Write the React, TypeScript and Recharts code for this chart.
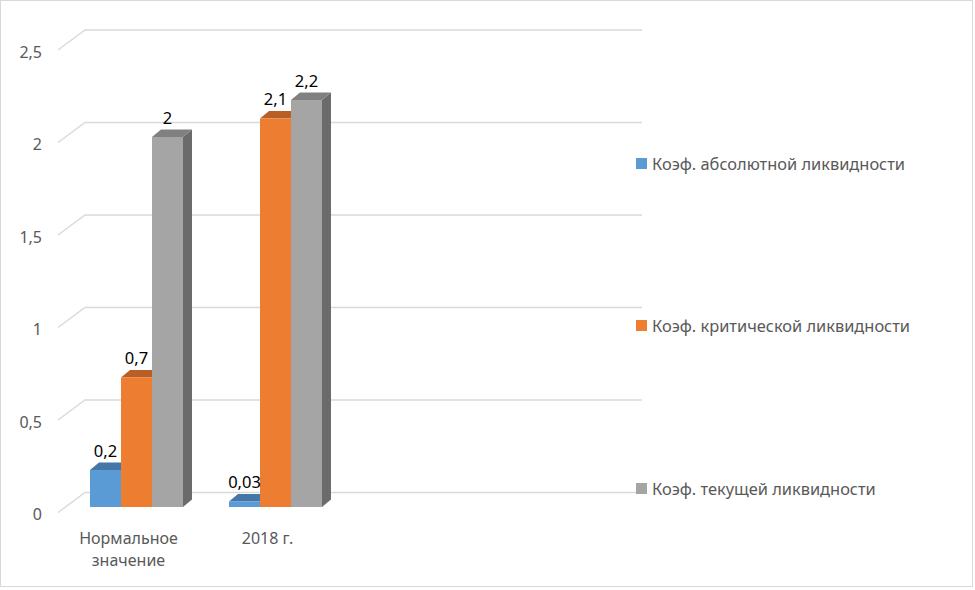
import React from 'react';
import { BarChart, Bar, XAxis, YAxis, CartesianGrid, Legend, LabelList, Text } from 'recharts';

const categories = ['Нормальное значение', '2018 г.', '', ''];
const absoluteLiquidity: (number | null)[] = [0.2, 0.03, null, null];
const criticalLiquidity: (number | null)[] = [0.7, 2.1, null, null];
const currentLiquidity: (number | null)[] = [2, 2.2, null, null];
const yTicks = [0, 0.5, 1, 1.5, 2, 2.5];
const seriesNames = [
  'Коэф. абсолютной ликвидности',
  'Коэф. критической ликвидности',
  'Коэф. текущей ликвидности',
];

const data = categories.map((name, i) => ({
  name,
  abs: absoluteLiquidity[i],
  crit: criticalLiquidity[i],
  cur: currentLiquidity[i],
}));

const FONT = '"Noto Sans", "Open Sans", sans-serif';
const DX = 9;
const DY = 7.5;

const fmt = (v: any) => (v === null || v === undefined ? '' : String(v).replace('.', ','));

const makeShape = (front: string, top: string, side: string) => (p: any) => {
  const { x, y, width, height } = p;
  if (x == null || !height || height <= 0) return <g />;
  return (
    <g>
      <polygon
        points={`${x + width},${y} ${x + width + DX},${y - DY} ${x + width + DX},${y + height - DY} ${x + width},${y + height}`}
        fill={side}
      />
      <polygon
        points={`${x},${y} ${x + DX},${y - DY} ${x + width + DX},${y - DY} ${x + width},${y}`}
        fill={top}
      />
      <rect x={x} y={y} width={width} height={height} fill={front} />
    </g>
  );
};

const renderLabel = (p: any) => {
  const { x, y, width, value } = p;
  if (value === null || value === undefined) return null;
  return (
    <text
      x={x + width / 2}
      y={y - 20}
      textAnchor="middle"
      dominantBaseline="central"
      fill="#000"
      fontSize={16.5}
      fontFamily={FONT}
    >
      {fmt(value)}
    </text>
  );
};

const gridLine = (p: any) => {
  const { x1, x2, y1 } = p;
  const pts = `${x1 - 9},${y1 + 5.5} ${x1 + 18},${y1 - 14.5} ${x2 + 19},${y1 - 14.5}`;
  return <polyline key={`grid-${y1}`} points={pts} fill="none" stroke="#d9d9d9" strokeWidth={1.4} />;
};

const YTick = (p: any) => {
  const { x, y, payload } = p;
  return (
    <text x={x} y={y + 7} textAnchor="end" dominantBaseline="central" fill="#595959" fontSize={16} fontFamily={FONT}>
      {fmt(payload.value)}
    </text>
  );
};

const XTick = (p: any) => {
  const { x, y, payload } = p;
  if (!payload.value) return null;
  return (
    <Text
      x={x - 8}
      y={y}
      width={130}
      textAnchor="middle"
      verticalAnchor="start"
      lineHeight={22}
      fill="#595959"
      fontSize={16}
      fontFamily={FONT}
    >
      {payload.value}
    </Text>
  );
};

const renderLegend = (props: any) => {
  const payload = props.payload || [];
  return (
    <div style={{ fontFamily: FONT, fontSize: 16.4, color: '#595959' }}>
      {payload.map((entry: any, i: number) => (
        <div key={i} style={{ height: 162.5, display: 'flex', alignItems: 'center', whiteSpace: 'nowrap' }}>
          <span style={{ display: 'inline-block', width: 11, height: 11, background: entry.color, marginRight: 5 }} />
          <span>{entry.value}</span>
        </div>
      ))}
    </div>
  );
};

export default function App() {
  return (
    <div style={{ position: 'relative', width: 975, height: 590 }}>
      <style>{'body{margin:0;}'}</style>
      <BarChart
        width={975}
        height={590}
        data={data}
        margin={{ top: 44.5, right: 352, bottom: 0, left: 0 }}
        barSize={31}
        barGap={0}
        style={{ fontFamily: FONT }}
      >
        <CartesianGrid vertical={false} horizontal={gridLine} />
        <XAxis dataKey="name" axisLine={false} tickLine={false} tickSize={0} tickMargin={26} height={83} tick={<XTick />} interval={0} />
        <YAxis
          domain={[0, 2.5]}
          ticks={yTicks}
          axisLine={false}
          tickLine={false}
          tickSize={0}
          tickMargin={25}
          width={67}
          tick={<YTick />}
        />
        <Legend
          layout="vertical"
          align="center"
          verticalAlign="middle"
          content={renderLegend}
          wrapperStyle={{ left: 636, top: 81.75, width: 339, height: 487.5 }}
        />
        <Bar dataKey="abs" name={seriesNames[0]} fill="#5b9bd5" isAnimationActive={false} shape={makeShape('#5b9bd5', '#4576a8', '#41719c')}>
          <LabelList dataKey="abs" content={renderLabel} />
        </Bar>
        <Bar dataKey="crit" name={seriesNames[1]} fill="#ed7d31" isAnimationActive={false} shape={makeShape('#ed7d31', '#b95f25', '#ae5a21')}>
          <LabelList dataKey="crit" content={renderLabel} />
        </Bar>
        <Bar dataKey="cur" name={seriesNames[2]} fill="#a5a5a5" isAnimationActive={false} shape={makeShape('#a5a5a5', '#808080', '#6b6b6b')}>
          <LabelList dataKey="cur" content={renderLabel} />
        </Bar>
      </BarChart>
      <div
        style={{
          position: 'absolute',
          left: 0,
          top: 0,
          width: 973,
          height: 587,
          boxSizing: 'border-box',
          border: '1px solid #d9d9d9',
          pointerEvents: 'none',
        }}
      />
    </div>
  );
}
